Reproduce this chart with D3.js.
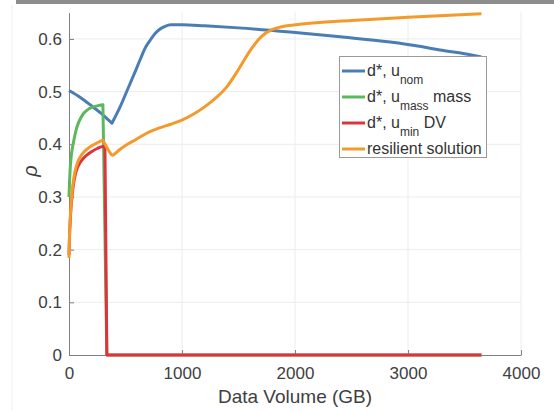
<!DOCTYPE html>
<html>
<head>
<meta charset="utf-8">
<script src="https://cdn.jsdelivr.net/npm/d3@7"></script>
<style>
  html, body { margin: 0; padding: 0; background: #fff; }
  svg { display: block; font-family: "Liberation Sans", Arial, Helvetica, sans-serif; }
</style>
</head>
<body>
<svg id="chart" width="554" height="411"></svg>
<script>
// Data volume (GB) vs. rho for each design / policy
const nomVolume   = [0, 100, 200, 300, 380, 450, 520, 580, 628, 680, 720, 760, 800, 850, 900, 1000, 1200, 1500, 1956, 2400, 2841, 3100, 3283, 3500, 3650];
const nomRho      = [0.502, 0.489, 0.473, 0.456, 0.44, 0.47, 0.505, 0.535, 0.56, 0.585, 0.598, 0.61, 0.618, 0.624, 0.627, 0.627, 0.625, 0.621, 0.613, 0.604, 0.594, 0.586, 0.579, 0.572, 0.566];

const massVolume  = [0, 5, 10, 20, 38, 55, 68, 90, 127, 160, 200, 250, 300, 335, 3650];
const massRho     = [0.30, 0.33, 0.352, 0.378, 0.402, 0.42, 0.431, 0.444, 0.458, 0.465, 0.47, 0.473, 0.475, 0, 0];

const minVolume   = [0, 5, 10, 18, 28, 40, 55, 75, 100, 130, 160, 200, 250, 300, 318, 335, 3650];
const minRho      = [0.19, 0.23, 0.25, 0.28, 0.303, 0.325, 0.342, 0.356, 0.366, 0.374, 0.38, 0.386, 0.392, 0.396, 0.396, 0, 0];

const resVolume   = [0, 5, 10, 18, 28, 40, 55, 75, 100, 130, 160, 200, 250, 300, 330, 360, 385, 400, 450, 510, 600, 687, 800, 900, 1000, 1100, 1200, 1300, 1400, 1500, 1600, 1700, 1800, 1900, 2044, 2500, 3000, 3650];
const resRho      = [0.184, 0.23, 0.255, 0.285, 0.31, 0.332, 0.35, 0.365, 0.376, 0.385, 0.391, 0.397, 0.403, 0.408, 0.396, 0.385, 0.379, 0.381, 0.39, 0.399, 0.41, 0.421, 0.431, 0.438, 0.446, 0.457, 0.471, 0.488, 0.51, 0.542, 0.577, 0.604, 0.618, 0.624, 0.628, 0.635, 0.641, 0.648];

const xTicks = [0, 1000, 2000, 3000, 4000];
const yTicks = [0, 0.1, 0.2, 0.3, 0.4, 0.5, 0.6];

// "corners" are volumes where a curve switches regime and keeps a sharp kink
const series = [
  { key: "nom",  x: nomVolume,  y: nomRho,  color: "#4A7DB4", corners: [380] },
  { key: "mass", x: massVolume, y: massRho, color: "#5CB85C", corners: [300, 335] },
  { key: "min",  x: minVolume,  y: minRho,  color: "#E0323C", corners: [318, 335] },
  { key: "res",  x: resVolume,  y: resRho,  color: "#F39A2B", corners: [300] }
];

const svg = d3.select("#chart");

// thin grey band across the top edge of the figure
svg.append("rect").attr("x", 16).attr("y", 0).attr("width", 538).attr("height", 4).attr("fill", "#8c8c8c");
svg.append("line").attr("x1", 12).attr("x2", 12).attr("y1", 5).attr("y2", 411)
  .attr("stroke", "#f0f0f0").attr("stroke-width", 1);

const x = d3.scaleLinear().domain([0, 4000]).range([69, 521]);
const y = d3.scaleLinear().domain([0, 0.65]).range([355, 12.6]);

// grid
const grid = svg.append("g").attr("stroke", "#ececec").attr("stroke-width", 1);
xTicks.slice(1).forEach(t => {
  grid.append("line").attr("x1", x(t)).attr("x2", x(t)).attr("y1", y(0.65)).attr("y2", y(0));
});
yTicks.slice(1).forEach(t => {
  grid.append("line").attr("x1", x(0)).attr("x2", x(4000)).attr("y1", y(t)).attr("y2", y(t));
});

// axes with inward ticks
const xAxis = svg.append("g").attr("transform", `translate(0,${y(0)})`)
  .call(d3.axisBottom(x).tickValues(xTicks).tickSize(-5).tickPadding(12).tickSizeOuter(0).tickFormat(d3.format("d")));
const yAxis = svg.append("g").attr("transform", `translate(${x(0)},0)`)
  .call(d3.axisLeft(y).tickValues(yTicks).tickSize(-5).tickPadding(7).tickSizeOuter(0).tickFormat(d => d === 0 ? "0" : d3.format(".1f")(d)));

[xAxis, yAxis].forEach(g => {
  g.select(".domain").attr("stroke", "#808080").attr("stroke-width", 1);
  g.selectAll(".tick line").attr("stroke", "#808080");
  g.selectAll(".tick text").attr("fill", "#404040").style("font-size", "17px");
});
xAxis.selectAll(".tick text").attr("dy", "0.71em");

// axis labels
svg.append("text").attr("x", x(2000)).attr("y", 403).attr("text-anchor", "middle")
  .attr("fill", "#404040").style("font-size", "19px").text("Data Volume (GB)");
svg.append("text").attr("transform", "translate(37,171) rotate(-90)").attr("text-anchor", "middle")
  .attr("fill", "#404040").style("font-size", "20px").style("font-style", "italic").text("ρ");

// series lines: smooth monotone pieces joined at the corner points
const line = d3.line().x(d => x(d[0])).y(d => y(d[1])).curve(d3.curveMonotoneX);
function piecewisePath(s) {
  const pts = s.x.map((v, i) => [v, s.y[i]]);
  const cuts = s.corners.map(c => s.x.indexOf(c));
  const pieces = [];
  let start = 0;
  cuts.forEach(c => { pieces.push(pts.slice(start, c + 1)); start = c; });
  pieces.push(pts.slice(start));
  return pieces.map((p, i) => {
    const d = line(p);
    return i === 0 ? d : "L" + d.slice(1);
  }).join("");
}
series.forEach(s => {
  svg.append("path")
    .attr("fill", "none").attr("stroke", s.color).attr("stroke-width", 3)
    .attr("stroke-linejoin", "round").attr("stroke-linecap", "butt")
    .attr("d", piecewisePath(s));
});

// legend
const legend = svg.append("g");
legend.append("rect").attr("x", 339.5).attr("y", 56.5).attr("width", 147).attr("height", 101)
  .attr("fill", "#fff").attr("stroke", "#9a9a9a").attr("stroke-width", 1);

const entries = [
  { color: series[0].color, main: "d*, u", sub: "nom", tail: "" },
  { color: series[1].color, main: "d*, u", sub: "mass", tail: " mass" },
  { color: series[2].color, main: "d*, u", sub: "min", tail: " DV" },
  { color: series[3].color, main: "resilient solution", sub: "", tail: "" }
];
entries.forEach((e, i) => {
  const ly = 71 + i * 26;
  legend.append("line").attr("x1", 342).attr("x2", 365).attr("y1", ly).attr("y2", ly)
    .attr("stroke", e.color).attr("stroke-width", 3);
  const t = legend.append("text").attr("x", 367).attr("y", ly + 5)
    .attr("fill", "#333").style("font-size", "16px");
  t.append("tspan").text(e.main);
  if (e.sub) {
    t.append("tspan").attr("dy", 8).style("font-size", "12px").text(e.sub);
    if (e.tail) t.append("tspan").attr("dy", -8).text(e.tail);
  }
});
</script>
</body>
</html>
